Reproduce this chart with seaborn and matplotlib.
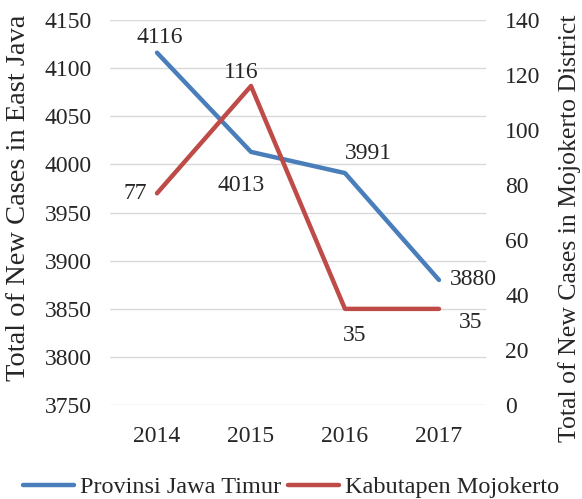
import pandas as pd
import matplotlib.pyplot as plt
import seaborn as sns

years = ['2014', '2015', '2016', '2017']
jatim = [4116, 4013, 3991, 3880]
mojokerto = [77, 116, 35, 35]

sns.set_style('white')
plt.rcParams['font.family'] = ['Liberation Serif', 'DejaVu Serif']

df = pd.DataFrame({'year': years, 'jatim': jatim, 'mojo': mojokerto})

fig = plt.figure(figsize=(5.82, 4.99), dpi=100)
ax = fig.add_axes([0.189, 0.188, 0.646, 0.772])
ax2 = ax.twinx()

blue = '#4A7EBB'
red = '#BE4B48'

sns.lineplot(data=df, x='year', y='jatim', ax=ax, color=blue, lw=3.2,
             label='Provinsi Jawa Timur', legend=False, sort=False)
sns.lineplot(data=df, x='year', y='mojo', ax=ax2, color=red, lw=3.2,
             label='Kabutapen Mojokerto', legend=False, sort=False)

ax.set_ylim(3750, 4150)
ax.set_yticks(range(3750, 4151, 50))
ax2.set_ylim(0, 140)
ax2.set_yticks(range(0, 141, 20))
ax.set_xlim(-0.5, 3.5)

ax.yaxis.grid(True, color='#d9d9d9', lw=1)
ax.set_axisbelow(True)
for a in (ax, ax2):
    for s in a.spines.values():
        s.set_visible(False)
    a.tick_params(length=0, labelsize=17)
ax.tick_params(axis='y', pad=13)
ax2.tick_params(axis='y', pad=14)
ax.tick_params(axis='x', pad=15)

ax.set_xlabel('')
ax.set_ylabel('Total of New Cases in East Java', fontsize=20.5)
ax2.set_ylabel('Total of New Cases in Mojokerto District', fontsize=18.5)
ax.yaxis.label.set_va('center')
ax2.yaxis.label.set_va('center')
ax.yaxis.set_label_coords(-0.244, 0.538)
ax2.yaxis.set_label_coords(1.222, 0.46)

# data labels (offsets in points)
fs = 17
offs_j = [(2, 11), (-7, -24), (17, 14), (8, 0)]
ha_j = ['center', 'center', 'center', 'left']
for i, (v, o, h) in enumerate(zip(jatim, offs_j, ha_j)):
    ax.annotate(str(v), (i, v), xytext=o, textcoords='offset points',
                ha=h, va='center', fontsize=fs)
offs_m = [(-7, 0), (-7, 10), (7, -19), (23, -10)]
ha_m = ['right', 'center', 'center', 'center']
for i, (v, o, h) in enumerate(zip(mojokerto, offs_m, ha_m)):
    ax2.annotate(str(v), (i, v), xytext=o, textcoords='offset points',
                 ha=h, va='center', fontsize=fs)

h1, l1 = ax.get_legend_handles_labels()
h2, l2 = ax2.get_legend_handles_labels()
fig.legend(h1 + h2, l1 + l2, loc='center', bbox_to_anchor=(0.5, 1 - 487 / 499),
           ncol=2, frameon=False, fontsize=17.5, handlelength=2.1,
           handletextpad=0.25, columnspacing=0.3, borderpad=0)

fig.savefig('out.png', dpi=100)
